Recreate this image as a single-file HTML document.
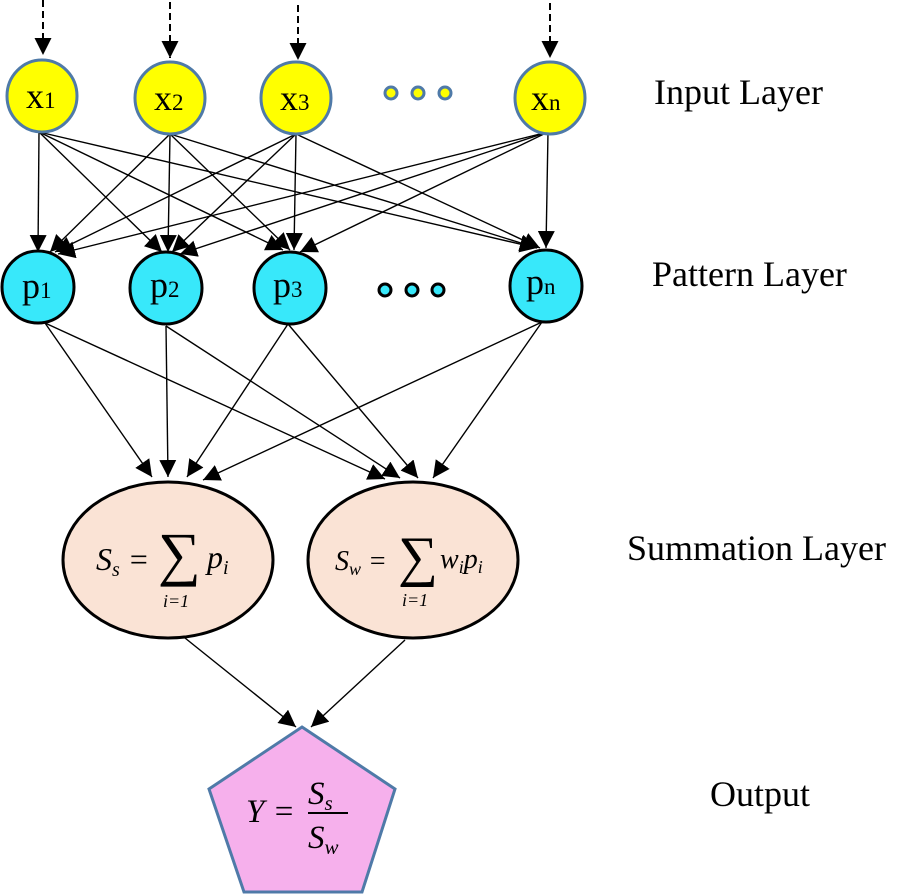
<!DOCTYPE html>
<html><head><meta charset="utf-8"><style>
html,body{margin:0;padding:0;background:#fff;}
svg{display:block;}
text{font-family:"Liberation Serif",serif;}
.m{font-family:"DejaVu Serif","Liberation Serif",serif;font-style:italic;}
.lab{font-size:36px;}
.nd{font-size:36px;}
.sb{font-size:23px;}
</style></head><body>
<svg width="898" height="895" viewBox="0 0 898 895" xmlns="http://www.w3.org/2000/svg">
<defs>
<marker id="b" viewBox="0 0 10 10" refX="10" refY="5" markerWidth="17" markerHeight="17" markerUnits="userSpaceOnUse" orient="auto"><path d="M0,0L10,5L0,10z" fill="#000"/></marker>
</defs>
<g stroke="#000" stroke-width="2" stroke-dasharray="7,4" fill="none">
<line x1="43" y1="0" x2="43" y2="55" marker-end="url(#b)"/>
<line x1="170" y1="2" x2="170" y2="58" marker-end="url(#b)"/>
<line x1="298" y1="5" x2="298" y2="60" marker-end="url(#b)"/>
<line x1="550" y1="3" x2="550" y2="58" marker-end="url(#b)"/>
</g>
<g stroke="#000" stroke-width="1.4" fill="none">
<line x1="39" y1="132" x2="38" y2="252" marker-end="url(#b)"/>
<line x1="39" y1="132" x2="162" y2="252" marker-end="url(#b)"/>
<line x1="39" y1="132" x2="283" y2="250" marker-end="url(#b)"/>
<line x1="39" y1="132" x2="537" y2="248" marker-end="url(#b)"/>
<line x1="170" y1="134" x2="50" y2="252" marker-end="url(#b)"/>
<line x1="170" y1="134" x2="168" y2="252" marker-end="url(#b)"/>
<line x1="170" y1="134" x2="290" y2="250" marker-end="url(#b)"/>
<line x1="170" y1="134" x2="537" y2="248" marker-end="url(#b)"/>
<line x1="296" y1="134" x2="55" y2="252" marker-end="url(#b)"/>
<line x1="296" y1="134" x2="172" y2="252" marker-end="url(#b)"/>
<line x1="296" y1="134" x2="294" y2="250" marker-end="url(#b)"/>
<line x1="296" y1="134" x2="540" y2="248" marker-end="url(#b)"/>
<line x1="548" y1="132" x2="58" y2="254" marker-end="url(#b)"/>
<line x1="548" y1="132" x2="180" y2="254" marker-end="url(#b)"/>
<line x1="548" y1="132" x2="300" y2="252" marker-end="url(#b)"/>
<line x1="548" y1="132" x2="546" y2="248" marker-end="url(#b)"/>
</g>
<g stroke="#000" stroke-width="1.4" fill="none">
<line x1="45" y1="323" x2="152" y2="477" marker-end="url(#b)"/>
<line x1="45" y1="323" x2="385" y2="479" marker-end="url(#b)"/>
<line x1="166" y1="326" x2="168" y2="477" marker-end="url(#b)"/>
<line x1="166" y1="326" x2="400" y2="478" marker-end="url(#b)"/>
<line x1="288" y1="324" x2="187" y2="477" marker-end="url(#b)"/>
<line x1="288" y1="324" x2="418" y2="478" marker-end="url(#b)"/>
<line x1="542" y1="322" x2="203" y2="480" marker-end="url(#b)"/>
<line x1="542" y1="322" x2="433" y2="478" marker-end="url(#b)"/>
<line x1="185" y1="638" x2="296" y2="727" marker-end="url(#b)"/>
<line x1="405" y1="640" x2="311" y2="727" marker-end="url(#b)"/>
</g>
<g fill="#ffff00" stroke="#4f7aa8" stroke-width="3">
<ellipse cx="42" cy="96" rx="35" ry="36"/>
<ellipse cx="170" cy="98" rx="35" ry="36"/>
<ellipse cx="296" cy="98" rx="35" ry="36"/>
<ellipse cx="550" cy="98" rx="35" ry="36"/>
<circle cx="391" cy="93" r="6"/><circle cx="418" cy="93" r="6"/><circle cx="445" cy="93" r="6"/>
</g>
<g class="nd">
<text x="26" y="108">x<tspan class="sb">1</tspan></text>
<text x="154" y="110">x<tspan class="sb">2</tspan></text>
<text x="280" y="110">x<tspan class="sb">3</tspan></text>
<text x="531" y="110">x<tspan class="sb">n</tspan></text>
</g>
<g fill="#38e8fa" stroke="#000" stroke-width="3">
<circle cx="38" cy="287" r="36"/>
<circle cx="166" cy="288" r="36"/>
<circle cx="290" cy="288" r="36"/>
<circle cx="546" cy="286" r="36"/>
<circle cx="385" cy="290" r="6"/><circle cx="412" cy="290" r="6"/><circle cx="438" cy="290" r="6"/>
</g>
<g class="nd">
<text x="22" y="298">p<tspan class="sb">1</tspan></text>
<text x="150" y="297">p<tspan class="sb">2</tspan></text>
<text x="273" y="297">p<tspan class="sb">3</tspan></text>
<text x="526" y="294">p<tspan class="sb">n</tspan></text>
</g>
<g fill="#fae3d5" stroke="#000" stroke-width="3">
<ellipse cx="168" cy="560" rx="105" ry="78"/>
<ellipse cx="413" cy="560" rx="105" ry="78"/>
</g>
<g class="m">
<text x="96" y="570" style="font-size:32px">S<tspan style="font-size:20px" dy="6">s</tspan><tspan dy="-6"> =</tspan></text>
<text x="158" y="574" style="font-size:60px;font-style:normal">∑</text>
<text x="207" y="568" style="font-size:32px">p<tspan style="font-size:20px" dy="6">i</tspan></text>
<text x="163" y="607" style="font-size:18px">i=1</text>
<text x="335" y="570" style="font-size:28px">S<tspan style="font-size:18px" dy="5">w</tspan><tspan dy="-5"> =</tspan></text>
<text x="398" y="575" style="font-size:56px;font-style:normal">∑</text>
<text x="440" y="568" style="font-size:28px">w<tspan style="font-size:18px" dy="5">i</tspan><tspan dy="-5">p</tspan><tspan style="font-size:18px" dy="5">i</tspan></text>
<text x="402" y="606" style="font-size:18px">i=1</text>
</g>
<polygon points="302,727 395,789 362,892 244,892 209,789" fill="#f6b0ec" stroke="#4f7aa8" stroke-width="3"/>
<g class="m">
<text x="246" y="822" style="font-size:33px">Y =</text>
<text x="308" y="804" style="font-size:33px">S<tspan style="font-size:21px" dy="6">s</tspan></text>
<line x1="308" y1="813" x2="348" y2="813" stroke="#000" stroke-width="2"/>
<text x="308" y="848" style="font-size:33px">S<tspan style="font-size:21px" dy="6">w</tspan></text>
</g>
<g class="lab">
<text x="654" y="104">Input Layer</text>
<text x="652" y="286">Pattern Layer</text>
<text x="627" y="560">Summation Layer</text>
<text x="710" y="806">Output</text>
</g>
</svg>
</body></html>
